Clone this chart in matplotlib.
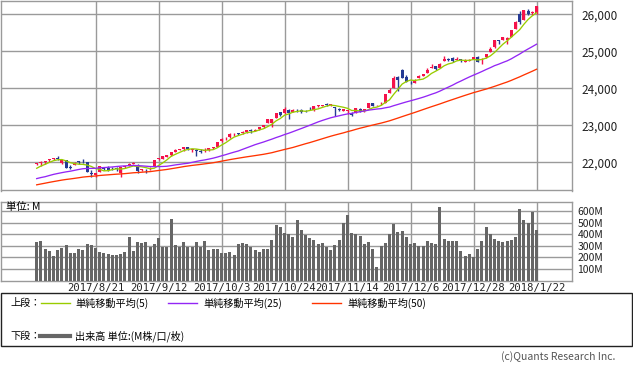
import matplotlib
matplotlib.use("Agg")
import matplotlib.pyplot as plt
from matplotlib.patches import Rectangle
from matplotlib.lines import Line2D
import numpy as np
import pandas as pd

plt.rcParams['font.family'] = ['Noto Sans CJK JP', 'DejaVu Sans']

# daily bars 2017/8/1 - 2018/1/22
dates = [
    "2017/8/1", "2017/8/2", "2017/8/3", "2017/8/4", "2017/8/7", "2017/8/8", "2017/8/9", "2017/8/10",
    "2017/8/11", "2017/8/14", "2017/8/15", "2017/8/16", "2017/8/17", "2017/8/18", "2017/8/21",
    "2017/8/22", "2017/8/23", "2017/8/24", "2017/8/25", "2017/8/28", "2017/8/29", "2017/8/30",
    "2017/8/31", "2017/9/1", "2017/9/5", "2017/9/6", "2017/9/7", "2017/9/8", "2017/9/11",
    "2017/9/12", "2017/9/13", "2017/9/14", "2017/9/15", "2017/9/18", "2017/9/19", "2017/9/20",
    "2017/9/21", "2017/9/22", "2017/9/25", "2017/9/26", "2017/9/27", "2017/9/28", "2017/9/29",
    "2017/10/2", "2017/10/3", "2017/10/4", "2017/10/5", "2017/10/6", "2017/10/9", "2017/10/10",
    "2017/10/11", "2017/10/12", "2017/10/13", "2017/10/16", "2017/10/17", "2017/10/18",
    "2017/10/19", "2017/10/20", "2017/10/23", "2017/10/24", "2017/10/25", "2017/10/26",
    "2017/10/27", "2017/10/30", "2017/10/31", "2017/11/1", "2017/11/2", "2017/11/3", "2017/11/6",
    "2017/11/7", "2017/11/8", "2017/11/9", "2017/11/10", "2017/11/13", "2017/11/14", "2017/11/15",
    "2017/11/16", "2017/11/17", "2017/11/20", "2017/11/21", "2017/11/22", "2017/11/24",
    "2017/11/27", "2017/11/28", "2017/11/29", "2017/11/30", "2017/12/1", "2017/12/4", "2017/12/5",
    "2017/12/6", "2017/12/7", "2017/12/8", "2017/12/11", "2017/12/12", "2017/12/13", "2017/12/14",
    "2017/12/15", "2017/12/18", "2017/12/19", "2017/12/20", "2017/12/21", "2017/12/22",
    "2017/12/26", "2017/12/27", "2017/12/28", "2017/12/29", "2018/1/2", "2018/1/3", "2018/1/4",
    "2018/1/5", "2018/1/8", "2018/1/9", "2018/1/10", "2018/1/11", "2018/1/12", "2018/1/16",
    "2018/1/17", "2018/1/18", "2018/1/19", "2018/1/22",
]

opens = [
    21961, 21990, 22007, 22058, 22100, 22112, 21992, 22049, 21880, 21920, 22030, 22030, 22004, 21720,
    21660, 21725, 21835, 21850, 21830, 21840, 21700, 21860, 21920, 21960, 21930, 21780, 21800, 21790,
    21900, 22080, 22100, 22150, 22190, 22290, 22340, 22370, 22410, 22330, 22330, 22310, 22310, 22330,
    22390, 22420, 22570, 22650, 22680, 22760, 22780, 22790, 22820, 22870, 22850, 22890, 22950, 23050,
    23070, 23200, 23350, 23320, 23420, 23350, 23440, 23410, 23385, 23450, 23420, 23530, 23530, 23570,
    23550, 23490, 23430, 23380, 23400, 23340, 23330, 23440, 23380, 23460, 23590, 23540, 23570, 23600,
    23860, 24000, 24300, 24500, 24300, 24150, 24140, 24280, 24330, 24420, 24560, 24600, 24550, 24740,
    24800, 24820, 24770, 24780, 24720, 24750, 24790, 24840, 24810, 24850, 24980, 25115, 25310, 25310,
    25300, 25400, 25600, 26000, 25850, 26100, 26030, 26030,
]
highs = [
    21990, 22036, 22036, 22092, 22121, 22180, 22055, 22049, 21935, 22010, 22040, 22090, 22004, 21800,
    21720, 21905, 21860, 21890, 21870, 21860, 21880, 21910, 21990, 22020, 21960, 21830, 21810, 21860,
    22060, 22120, 22160, 22210, 22270, 22350, 22370, 22413, 22420, 22360, 22360, 22360, 22390, 22390,
    22420, 22560, 22650, 22690, 22780, 22780, 22800, 22840, 22880, 22900, 22900, 22960, 23000, 23160,
    23165, 23330, 23370, 23485, 23440, 23440, 23440, 23440, 23410, 23490, 23520, 23560, 23560, 23600,
    23570, 23500, 23470, 23450, 23420, 23350, 23480, 23460, 23440, 23610, 23600, 23560, 23640, 23840,
    24000, 24330, 24330, 24534, 24350, 24200, 24250, 24350, 24390, 24550, 24670, 24610, 24690, 24880,
    24820, 24850, 24850, 24790, 24780, 24790, 24840, 24870, 24830, 24940, 25105, 25300, 25310, 25400,
    25400, 25580, 25810, 26090, 26120, 26150, 26080, 26215,
]
lows = [
    21927, 21910, 21966, 22003, 22062, 22060, 21950, 21844, 21830, 21920, 21960, 21990, 21750, 21600,
    21600, 21725, 21780, 21770, 21790, 21770, 21600, 21840, 21910, 21950, 21700, 21760, 21710, 21780,
    21900, 22060, 22090, 22130, 22170, 22280, 22330, 22300, 22340, 22290, 22160, 22250, 22290, 22310,
    22350, 22420, 22560, 22610, 22670, 22710, 22730, 22770, 22800, 22790, 22850, 22880, 22930, 23050,
    22950, 23200, 23260, 23310, 23170, 23350, 23350, 23340, 23350, 23420, 23380, 23490, 23510, 23510,
    23510, 23250, 23390, 23380, 23300, 23240, 23330, 23350, 23360, 23460, 23520, 23520, 23550, 23600,
    23860, 24000, 23920, 24290, 24170, 24110, 24140, 24270, 24320, 24410, 24560, 24500, 24540, 24740,
    24730, 24700, 24760, 24710, 24720, 24730, 24780, 24710, 24660, 24830, 24970, 25080, 25200, 25300,
    25200, 25400, 25590, 25750, 25840, 25990, 25990, 26000,
]
closes = [
    21964, 22016, 22026, 22093, 22118, 22085, 22049, 21844, 21858, 21994, 21999, 22025, 21751, 21675,
    21704, 21900, 21812, 21783, 21814, 21808, 21865, 21892, 21948, 21988, 21753, 21808, 21785, 21798,
    22057, 22119, 22158, 22203, 22268, 22331, 22371, 22413, 22359, 22350, 22296, 22284, 22341, 22381,
    22405, 22558, 22642, 22662, 22775, 22774, 22761, 22831, 22873, 22841, 22872, 22957, 22997, 23158,
    23163, 23329, 23274, 23442, 23329, 23401, 23434, 23349, 23377, 23435, 23516, 23539, 23548, 23557,
    23563, 23462, 23422, 23440, 23409, 23271, 23458, 23358, 23430, 23591, 23526, 23558, 23581, 23837,
    23941, 24272, 24232, 24290, 24181, 24141, 24211, 24329, 24386, 24505, 24585, 24509, 24652, 24792,
    24755, 24727, 24782, 24754, 24746, 24774, 24838, 24719, 24824, 24923, 25075, 25296, 25283, 25386,
    25369, 25575, 25803, 25793, 26116, 26018, 26072, 26215,
]
# closes of the 49 days before 2017/8/1 (needed for the moving averages)
closes_prior = [
    20895, 20938, 20963, 21083, 21080, 21029, 21009,
    21144, 21206, 21184, 21136, 21174, 21183, 21272, 21236, 21328, 21375, 21360, 21384, 21529, 21467,
    21410, 21397, 21395, 21410, 21311, 21455, 21287, 21350,
    21479, 21478, 21320, 21414, 21409, 21409, 21532, 21553, 21638, 21630, 21575, 21641, 21612, 21580,
    21513, 21613, 21711, 21797, 21830, 21891,
]
# volume, M
volumes = [
    335, 344, 275, 258, 215, 266, 281, 307, 238, 238, 272, 266, 316, 307, 281, 247, 238, 229, 221, 221,
    229, 247, 376, 258, 335, 327, 335, 293, 316, 367, 293, 293, 531, 307, 293, 335, 293, 293, 335, 293,
    344, 266, 272, 272, 238, 238, 247, 221, 316, 327, 316, 293, 266, 247, 272, 272, 350, 479, 462, 413,
    402, 376, 522, 436, 393, 367, 350, 318, 324, 293, 264, 307, 350, 499, 568, 410, 402, 384, 316, 333,
    272, 117, 298, 324, 402, 488, 421, 427, 376, 316, 324, 298, 298, 341, 324, 316, 634, 359, 341, 341,
    341, 255, 212, 229, 203, 272, 341, 462, 402, 359, 341, 333, 341, 350, 376, 617, 522, 499, 591, 436,
]

tick_labels = ["2017/8/21", "2017/9/12", "2017/10/3", "2017/10/24", "2017/11/14",
               "2017/12/6", "2017/12/28", "2018/1/22"]
price_ticks = [22000, 23000, 24000, 25000, 26000]
volume_ticks = [100, 200, 300, 400, 500, 600]
ma_windows = [5, 25, 50]
ma_names = ["単純移動平均(5)", "単純移動平均(25)", "単純移動平均(50)"]
ma_colors = ["#99cc00", "#9326f5", "#ff3300"]

UP = "#f5124a"
DOWN = "#253a94"
GRID = "#9a9a9a"
W, H = 633, 370


def fig_box(x0, y0, x1, y1):
    # pixel box (top-left origin) -> figure fraction rect
    return [x0 / W, 1 - y1 / H, (x1 - x0) / W, (y1 - y0) / H]


def style_axes(ax, xticks):
    ax.set_xticks(xticks)
    ax.grid(True, color=GRID, lw=1)
    ax.set_axisbelow(True)
    for s in ax.spines.values():
        s.set_color(GRID)
        s.set_linewidth(1)
    ax.yaxis.tick_right()
    ax.tick_params(length=0)


fig = plt.figure(figsize=(W / 100, H / 100), dpi=100)
ax = fig.add_axes(fig_box(1, 1, 572, 190.5))
axv = fig.add_axes(fig_box(1, 201.7, 572, 280.6))

x = np.arange(len(closes))
o = np.array(opens, dtype=float)
c = np.array(closes, dtype=float)
col = np.where(c >= o, UP, DOWN)
xticks = [dates.index(t) for t in tick_labels]

# upper panel: candles + moving averages
ax.vlines(x, lows, highs, colors=col, lw=1, zorder=2)
ax.bar(x, np.maximum(np.abs(c - o), 10), bottom=np.minimum(o, c), width=0.72,
       color=col, lw=0, zorder=3)
allc = pd.Series(closes_prior + closes, dtype=float)
for w, mc in zip(ma_windows, ma_colors):
    ma = allc.rolling(w).mean().to_numpy()[-len(closes):]
    ax.plot(x, ma, color=mc, lw=0.95, zorder=4)

style_axes(ax, xticks)
ax.set_xlim(-8.5, 127.45)
ax.set_ylim(21238, 26360)
ax.set_yticks(price_ticks)
ax.set_yticklabels([f"{v:,}" for v in price_ticks], fontsize=8.5, color="#222222")
ax.set_xticklabels([])
ax.tick_params(axis="y", pad=7)

# lower panel: volume
axv.bar(x, volumes, width=0.72, color="#666666", lw=0, zorder=3)
style_axes(axv, xticks)
axv.set_xlim(-8.5, 127.45)
axv.set_ylim(0, 680)
axv.set_yticks(volume_ticks)
axv.set_yticklabels([f"{v}M" for v in volume_ticks], fontsize=7.5, color="#222222")
axv.set_xticklabels(tick_labels, fontsize=7.6, color="#222222", family="DejaVu Sans Mono")
axv.tick_params(axis="y", pad=4)
axv.tick_params(axis="x", pad=1.5)
axv.text(0.008, 0.93, "単位: M", transform=axv.transAxes, fontsize=7.5, va="center", ha="left")

# legend box
fig.patches.append(Rectangle((1 / W, 1 - 346 / H), 631 / W, 53 / H, transform=fig.transFigure,
                             fill=False, edgecolor="#222222", lw=1))
row1, row2 = 1 - 303 / H, 1 - 336 / H
fig.text(10 / W, row1, "上段：", fontsize=7.3, va="center")
fig.text(10 / W, row2, "下段：", fontsize=7.3, va="center")
for (lx, tx), name, mc in zip([(41, 75), (168, 203), (312, 347)], ma_names, ma_colors):
    fig.lines.append(Line2D([lx / W, (lx + 29) / W], [row1, row1], transform=fig.transFigure,
                            color=mc, lw=1))
    fig.text(tx / W, row1, name, fontsize=7.3, va="center")
fig.lines.append(Line2D([40 / W, 70 / W], [row2, row2], transform=fig.transFigure,
                        color="#666666", lw=3))
fig.text(75 / W, row2, "出来高 単位:(M株/口/枚)", fontsize=7.3, va="center")

fig.text(615 / W, 1 - 357 / H, "(c)Quants Research Inc.", fontsize=7.5, ha="right",
         va="center", color="#555555")

fig.savefig("out.png", dpi=100, facecolor="white")
